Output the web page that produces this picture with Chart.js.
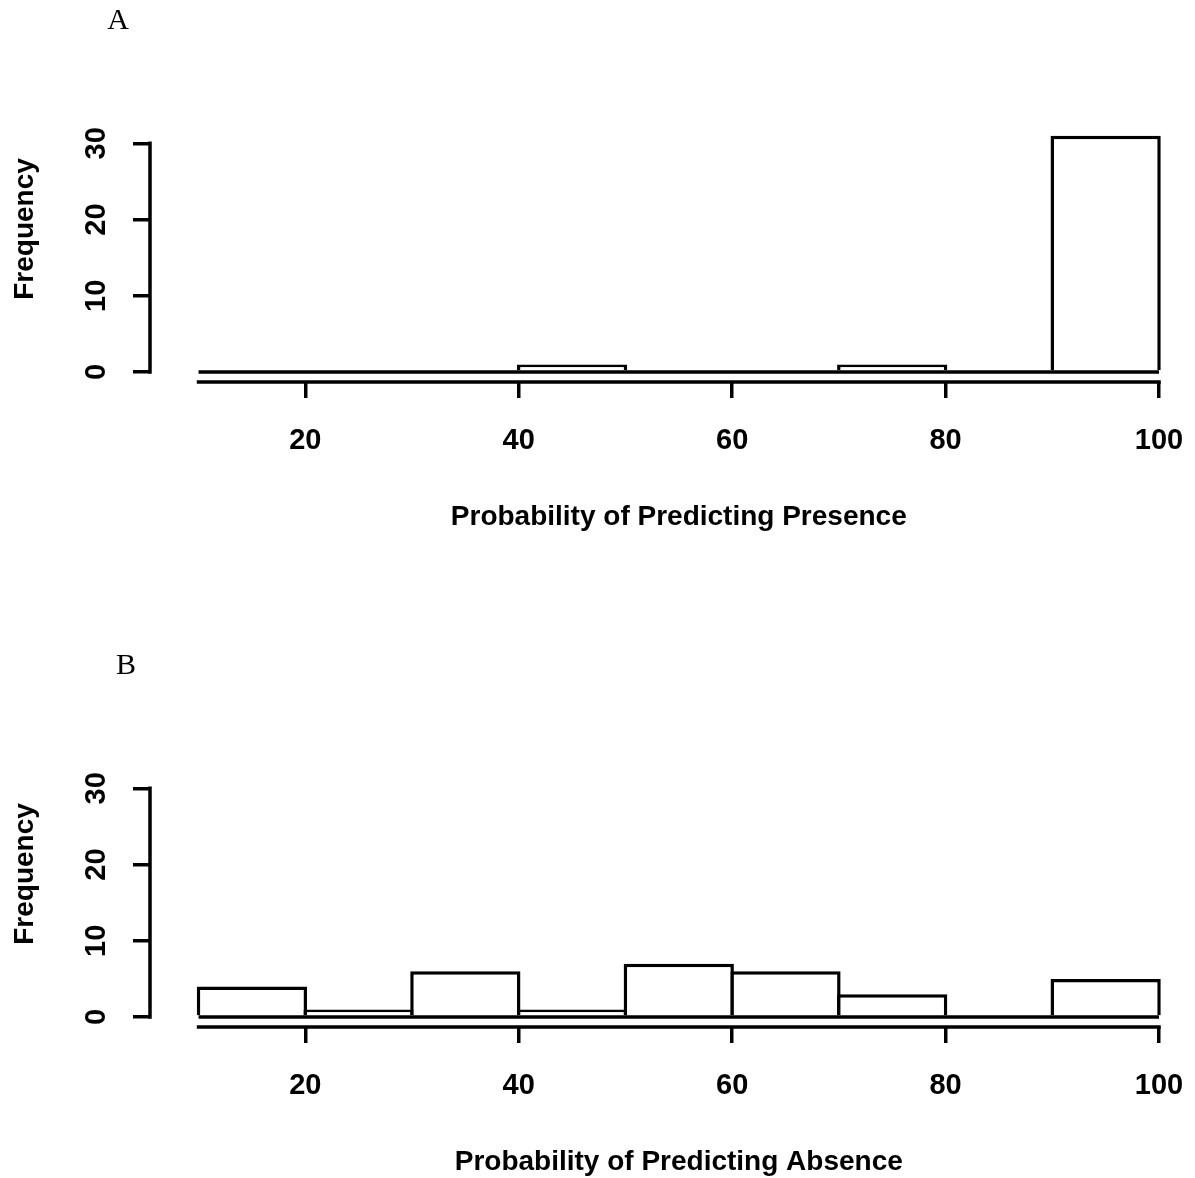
<!DOCTYPE html>
<html lang="en">
<head>
<meta charset="UTF-8">
<title>Probability histograms</title>
<script src="https://cdn.jsdelivr.net/npm/chart.js"></script>
<style>
  body { margin: 0; background: #fff; overflow: hidden; }
  .panel { position: absolute; left: 0; }
  #panelA { top: 0; }
  #panelB { top: 645px; }
</style>
</head>
<body>
<canvas id="panelA" class="panel" width="1195" height="560"></canvas>
<canvas id="panelB" class="panel" width="1195" height="560"></canvas>
<script>
// bins are 10 wide, from 10 to 100
const binMids = [15, 25, 35, 45, 55, 65, 75, 85, 95];
const binRange = [10, 100];
const presenceCounts = [0, 0, 0, 1, 0, 0, 1, 0, 31];
const absenceCounts = [4, 1, 6, 1, 7, 6, 3, 0, 5];
const xTickValues = [20, 40, 60, 80, 100];
const yTickValues = [0, 10, 20, 30];

const sansBold = '"Liberation Sans", Arial, sans-serif';
const lw = 3.5;

// R-style axis lines (only between first and last tick) plus titles and panel letter
const frame = {
  id: 'frame',
  afterDraw(chart, args, opts) {
    const ctx = chart.ctx, xs = chart.scales.x, ys = chart.scales.y, area = chart.chartArea;
    ctx.save();
    ctx.strokeStyle = '#000';
    ctx.lineWidth = lw;
    ctx.lineCap = 'square';
    ctx.beginPath();
    ctx.moveTo(area.left, ys.getPixelForValue(yTickValues[0]));
    ctx.lineTo(area.left, ys.getPixelForValue(yTickValues[yTickValues.length - 1]));
    ctx.moveTo(xs.getPixelForValue(binRange[0]), area.bottom);
    ctx.lineTo(xs.getPixelForValue(binRange[1]), area.bottom);
    ctx.stroke();

    ctx.fillStyle = '#000';
    ctx.font = 'bold 28px ' + sansBold;
    ctx.textAlign = 'center';
    ctx.textBaseline = 'alphabetic';
    ctx.fillText(opts.xTitle, xs.getPixelForValue((binRange[0] + binRange[1]) / 2), 525);

    ctx.save();
    ctx.translate(33, 229);
    ctx.rotate(-Math.PI / 2);
    ctx.fillText(opts.yTitle, 0, 0);
    ctx.restore();

    ctx.font = '30px "Liberation Serif", "Times New Roman", serif';
    ctx.fillText(opts.panel, opts.panelX, 29);
    ctx.restore();
  }
};

function makeHist(id, counts, xTitle, panel, panelX) {
  return new Chart(document.getElementById(id), {
    type: 'bar',
    data: {
      datasets: [
        {
          type: 'line',
          data: binRange.map(v => ({ x: v, y: 0 })),
          borderColor: '#000',
          borderWidth: lw,
          pointRadius: 0,
          order: 0,
          clip: false
        },
        {
          data: binMids.map((m, i) => ({ x: m, y: counts[i] })),
          backgroundColor: '#fff',
          borderColor: '#000',
          borderWidth: lw,
          borderSkipped: 'start',
          barPercentage: 1.033,
          categoryPercentage: 1,
          order: 1,
          clip: false
        }
      ]
    },
    options: {
      responsive: false,
      animation: false,
      layout: { padding: { top: 128, right: 36, bottom: 0, left: 0 } },
      plugins: {
        legend: { display: false },
        tooltip: { enabled: false },
        frame: { xTitle: xTitle, yTitle: 'Frequency', panel: panel, panelX: panelX }
      },
      scales: {
        x: {
          type: 'linear',
          min: 5.45,
          max: 100,
          offset: false,
          afterBuildTicks: s => { s.ticks = xTickValues.map(v => ({ value: v })); },
          afterFit: s => { s.height = 178; s.paddingLeft = 0; s.paddingRight = 0; },
          border: { display: false },
          grid: { offset: false, drawOnChartArea: false, drawTicks: true, tickLength: 16, lineWidth: lw, color: '#000' },
          ticks: {
            color: '#000',
            padding: 26,
            maxRotation: 0,
            autoSkip: false,
            font: { family: sansBold, size: 29, weight: 'bold' }
          }
        },
        y: {
          min: -1.31,
          max: 32,
          afterBuildTicks: s => { s.ticks = yTickValues.map(v => ({ value: v })); },
          afterFit: s => { s.width = 150; s.paddingTop = 0; s.paddingBottom = 0; },
          border: { display: false },
          grid: { drawOnChartArea: false, drawTicks: true, tickLength: 17, lineWidth: lw, color: '#000' },
          ticks: {
            color: '#000',
            padding: 20,
            minRotation: 90,
            maxRotation: 90,
            crossAlign: 'center',
            autoSkip: false,
            font: { family: sansBold, size: 29, weight: 'bold' }
          }
        }
      }
    },
    plugins: [frame]
  });
}

makeHist('panelA', presenceCounts, 'Probability of Predicting Presence', 'A', 118);
makeHist('panelB', absenceCounts, 'Probability of Predicting Absence', 'B', 126);
</script>
</body>
</html>
